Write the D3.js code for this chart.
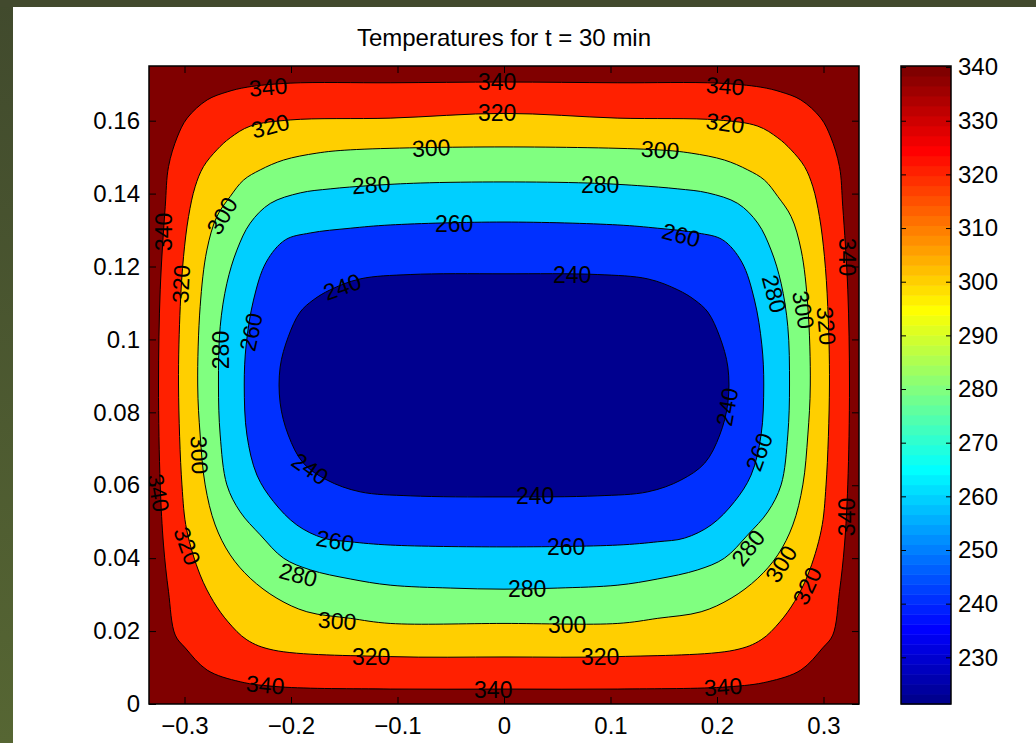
<!DOCTYPE html>
<html>
<head>
<meta charset="utf-8">
<script src="https://cdn.jsdelivr.net/npm/d3@7"></script>
<style>
  html, body { margin: 0; padding: 0; background: #ffffff; }
  svg { display: block; }
  text { font-family: "Liberation Sans", Arial, Helvetica, sans-serif; }
</style>
</head>
<body>
<svg id="chart" width="1036" height="743"></svg>
<script>
// ---------------- DATA ----------------
const titleText = "Temperatures for t = 30 min";
const xDomain = [-1/3, 1/3];
const yDomain = [0, 0.175];
const xTicks = [-0.3, -0.2, -0.1, 0, 0.1, 0.2, 0.3];
const yTicks = [0, 0.02, 0.04, 0.06, 0.08, 0.1, 0.12, 0.14, 0.16];
const colorTicks = [230, 240, 250, 260, 270, 280, 290, 300, 310, 320, 330, 340];
const tempMin = 221.3;   // colour axis limits
const tempMax = 340.2;
const levels = [340, 320, 300, 280, 260, 240];

// Left half of each isotherm (x, y in metres), top centre -> left side -> bottom centre.
// The field is symmetric about x = 0, so the right half is the mirror image.
const contour340 = [[0,0.1706],[-0.1069,0.1704],[-0.2008,0.1703],[-0.2411,0.1692],[-0.2599,0.1679],[-0.2787,0.1657],[-0.2975,0.1607],[-0.3068,0.1555],[-0.3150,0.1474],[-0.3181,0.1364],[-0.3228,0.1136],[-0.3244,0.0875],[-0.3228,0.0601],[-0.3197,0.0436],[-0.3150,0.0308],[-0.3087,0.0189],[-0.2993,0.0154],[-0.2787,0.0093],[-0.2477,0.0061],[-0.2101,0.0047],[-0.1069,0.0041],[0,0.0041]];
const contour320 = [[0,0.1620],[-0.1069,0.1607],[-0.2008,0.1602],[-0.2383,0.1585],[-0.2571,0.1553],[-0.2696,0.1520],[-0.2822,0.1474],[-0.2900,0.1419],[-0.2962,0.1337],[-0.3009,0.1227],[-0.3040,0.1090],[-0.3056,0.0875],[-0.3024,0.0601],[-0.2979,0.0477],[-0.2853,0.0354],[-0.2728,0.0281],[-0.2590,0.0225],[-0.2414,0.0176],[-0.2167,0.0148],[-0.1069,0.0130],[0,0.0129]];
const contour300 = [[0,0.1528],[-0.1444,0.1520],[-0.1757,0.1511],[-0.2070,0.1492],[-0.2289,0.1465],[-0.2446,0.1437],[-0.2571,0.1392],[-0.2696,0.1337],[-0.2790,0.1245],[-0.2853,0.1090],[-0.2876,0.0875],[-0.2853,0.0738],[-0.2806,0.0601],[-0.2712,0.0491],[-0.2571,0.0409],[-0.2383,0.0345],[-0.2132,0.0290],[-0.1851,0.0253],[-0.1444,0.0235],[-0.1069,0.0221],[0,0.0221]];
const contour280 = [[0,0.1432],[-0.0787,0.1429],[-0.1256,0.1422],[-0.1632,0.1413],[-0.1913,0.1402],[-0.2195,0.1373],[-0.2383,0.1319],[-0.2508,0.1245],[-0.2602,0.1154],[-0.2665,0.1035],[-0.2681,0.0875],[-0.2665,0.0738],[-0.2602,0.0601],[-0.2477,0.0527],[-0.2289,0.0464],[-0.2070,0.0400],[-0.1820,0.0368],[-0.1444,0.0343],[-0.1069,0.0326],[-0.0505,0.0318],[0,0.0315]];
const contour260 = [[0,0.1322],[-0.1069,0.1314],[-0.1444,0.1305],[-0.1820,0.1292],[-0.2054,0.1273],[-0.2233,0.1212],[-0.2352,0.1108],[-0.2421,0.0985],[-0.2439,0.0875],[-0.2414,0.0738],[-0.2320,0.0628],[-0.2164,0.0555],[-0.1945,0.0491],[-0.1695,0.0455],[-0.1444,0.0445],[-0.1069,0.0436],[0,0.0431]];
const contour240 = [[0,0.1180],[-0.0881,0.1178],[-0.1351,0.1166],[-0.1632,0.1136],[-0.1792,0.1108],[-0.1914,0.1075],[-0.2026,0.1007],[-0.2102,0.0924],[-0.2102,0.0826],[-0.2026,0.0738],[-0.1885,0.0661],[-0.1660,0.0614],[-0.1351,0.0582],[-0.0881,0.0571],[0,0.0568]];
const contourHalves = {340: contour340, 320: contour320, 300: contour300, 280: contour280, 260: contour260, 240: contour240};

// Contour labels
const labelLevel = [340,340,340,320,320,320,300,300,280,280,260,260,240,240,300,340,320,280,260,340,280,300,320,240,260,300,240,240,340,340,320,260,260,280,280,280,300,320,300,300,320,320,340,340,340];
const labelX = [-0.2214,-0.0064,0.2077,-0.2195,-0.0064,0.2077,-0.0684,0.1467,-0.1247,0.0903,-0.0468,0.1664,-0.1519,0.0640,-0.2646,-0.3191,-0.3031,-0.2655,-0.2374,0.3223,0.2537,0.2809,0.3025,0.2096,0.2396,-0.2862,-0.1820,0.0293,-0.3247,0.3223,-0.2975,-0.1585,0.0584,-0.1932,0.0218,0.2293,0.2603,0.2848,-0.1566,0.0593,-0.1247,0.0903,-0.2242,-0.0101,0.2058];
const labelY = [0.1692,0.1706,0.1695,0.1585,0.1620,0.1593,0.1525,0.1520,0.1424,0.1424,0.1317,0.1286,0.1144,0.1177,0.1339,0.1295,0.1152,0.0971,0.1020,0.1226,0.1125,0.1081,0.1037,0.0815,0.0691,0.0683,0.0645,0.0571,0.0579,0.0513,0.0433,0.0447,0.0431,0.0354,0.0315,0.0428,0.0384,0.0324,0.0228,0.0217,0.0129,0.0129,0.0052,0.0038,0.0047];
const labelAngle = [-5,0,4,-15,0,8,-3,4,-4,0,0,15,-20,0,-60,-90,-87,-90,-78,90,75,80,85,-80,-70,88,35,0,80,-90,70,10,0,15,0,-52,-58,-65,4,0,0,0,5,0,-4];

// ---------------- LAYOUT ----------------
const svg = d3.select("#chart");
const W = 1036, H = 743;
const plot = {left: 149, right: 859, top: 66, bottom: 704};
const cbar = {left: 901, right: 951};
const fontMain = 24, fontLabel = 23;

// page frame (dark border strips of the screenshot)
const defs = svg.append("defs");
const grad = defs.append("linearGradient").attr("id", "stripGrad")
  .attr("x1", 0).attr("y1", 0).attr("x2", 0).attr("y2", 1);
grad.append("stop").attr("offset", "0%").attr("stop-color", "#414a2d");
grad.append("stop").attr("offset", "100%").attr("stop-color", "#566633");
svg.append("rect").attr("x", 0).attr("y", 0).attr("width", W).attr("height", H).attr("fill", "#ffffff");
svg.append("rect").attr("x", 0).attr("y", 0).attr("width", 13).attr("height", H).attr("fill", "url(#stripGrad)");
svg.append("rect").attr("x", 0).attr("y", 0).attr("width", W).attr("height", 7).attr("fill", "#424a2e");

// scales
const x = d3.scaleLinear().domain(xDomain).range([plot.left, plot.right]);
const y = d3.scaleLinear().domain(yDomain).range([plot.bottom, plot.top]);
const cy = d3.scaleLinear().domain([tempMin, tempMax]).range([plot.bottom, plot.top]);

// MATLAB jet colormap (64 entries)
function jetMap(m) {
  const n = Math.ceil(m / 4);
  const u = [];
  for (let i = 1; i <= n; i++) u.push(i / n);
  for (let i = 1; i < n; i++) u.push(1);
  for (let i = n; i >= 1; i--) u.push(i / n);
  const g0 = Math.ceil(n / 2) - ((m % 4) === 1 ? 1 : 0);
  const J = Array.from({length: m}, () => [0, 0, 0]);
  u.forEach((v, i) => {
    const g = g0 + i + 1, r = g + n, b = g - n;
    if (g >= 1 && g <= m) J[g - 1][1] = v;
    if (r >= 1 && r <= m) J[r - 1][0] = v;
    if (b >= 1 && b <= m) J[b - 1][2] = v;
  });
  return J.map(c => d3.rgb(c[0] * 255, c[1] * 255, c[2] * 255).formatHex());
}
const jet = jetMap(64);
const colorOf = d3.scaleQuantize().domain([tempMin, tempMax]).range(jet);

// ---------------- PLOT ----------------
const clipId = "plotClip";
defs.append("clipPath").attr("id", clipId).append("rect")
  .attr("x", plot.left).attr("y", plot.top)
  .attr("width", plot.right - plot.left).attr("height", plot.bottom - plot.top);

const gPlot = svg.append("g").attr("clip-path", `url(#${clipId})`);

// region above the highest level
gPlot.append("rect")
  .attr("x", x(xDomain[0])).attr("y", y(yDomain[1]))
  .attr("width", x(xDomain[1]) - x(xDomain[0]))
  .attr("height", y(yDomain[0]) - y(yDomain[1]))
  .attr("fill", colorOf(levels[0]));

const line = d3.line().x(d => x(d[0])).y(d => y(d[1])).curve(d3.curveCatmullRomClosed.alpha(0.5));
function fullLoop(half) {
  const mirror = half.slice(1, -1).reverse().map(p => [-p[0], p[1]]);
  return half.concat(mirror);
}
levels.forEach((lev, i) => {
  const inner = i + 1 < levels.length ? levels[i + 1] : tempMin;
  gPlot.append("path")
    .attr("d", line(fullLoop(contourHalves[lev])))
    .attr("fill", colorOf(inner))
    .attr("stroke", "#000")
    .attr("stroke-width", 1)
    .attr("stroke-linejoin", "round");
});

// contour labels
gPlot.selectAll("text.clabel")
  .data(labelLevel.map((l, i) => ({l, x: labelX[i], y: labelY[i], a: labelAngle[i]})))
  .join("text")
  .attr("class", "clabel")
  .attr("transform", d => `translate(${x(d.x)},${y(d.y)}) rotate(${d.a})`)
  .attr("text-anchor", "middle")
  .attr("dominant-baseline", "central")
  .attr("font-size", fontLabel)
  .attr("fill", "#000")
  .text(d => d.l);

// axes
const fmtX = d => d === 0 ? "0" : (d < 0 ? "\u2212" : "") + Math.abs(d).toFixed(1);
const fmtY = d => d === 0 ? "0" : d3.format(".2~f")(d);
function styleAxis(g) {
  g.selectAll("path.domain").remove();
  g.selectAll(".tick line").attr("stroke", "#000").attr("stroke-width", 1);
  g.selectAll(".tick text").attr("fill", "#000").attr("font-size", fontMain)
    .attr("font-family", '"Liberation Sans", Arial, Helvetica, sans-serif');
}
svg.append("g").attr("transform", `translate(0,${plot.bottom})`)
  .call(d3.axisBottom(x).tickValues(xTicks).tickFormat(fmtX).tickSizeInner(-7).tickSizeOuter(0).tickPadding(13))
  .call(styleAxis);
svg.append("g").attr("transform", `translate(0,${plot.top})`)
  .call(d3.axisTop(x).tickValues(xTicks).tickFormat("").tickSizeInner(-7).tickSizeOuter(0))
  .call(styleAxis);
svg.append("g").attr("transform", `translate(${plot.left},0)`)
  .call(d3.axisLeft(y).tickValues(yTicks).tickFormat(fmtY).tickSizeInner(-7).tickSizeOuter(0).tickPadding(9))
  .call(styleAxis);
svg.append("g").attr("transform", `translate(${plot.right},0)`)
  .call(d3.axisRight(y).tickValues(yTicks).tickFormat("").tickSizeInner(-7).tickSizeOuter(0))
  .call(styleAxis);

svg.append("rect")
  .attr("x", plot.left).attr("y", plot.top)
  .attr("width", plot.right - plot.left).attr("height", plot.bottom - plot.top)
  .attr("fill", "none").attr("stroke", "#000").attr("stroke-width", 1.5);

// title
svg.append("text")
  .attr("x", (plot.left + plot.right) / 2).attr("y", 46)
  .attr("text-anchor", "middle").attr("font-size", fontMain).attr("fill", "#000")
  .text(titleText);

// ---------------- COLORBAR ----------------
const step = (tempMax - tempMin) / jet.length;
svg.append("g").selectAll("rect")
  .data(jet.map((c, i) => ({c, v0: tempMin + i * step, v1: tempMin + (i + 1) * step})))
  .join("rect")
  .attr("x", cbar.left)
  .attr("width", cbar.right - cbar.left)
  .attr("y", d => cy(d.v1))
  .attr("height", d => cy(d.v0) - cy(d.v1) + 0.5)
  .attr("fill", d => d.c);

svg.append("g").attr("transform", `translate(${cbar.right},0)`)
  .call(d3.axisRight(cy).tickValues(colorTicks).tickFormat(d3.format("d")).tickSizeInner(-5).tickSizeOuter(0).tickPadding(7))
  .call(styleAxis);
svg.append("g").attr("transform", `translate(${cbar.left},0)`)
  .call(d3.axisLeft(cy).tickValues(colorTicks).tickFormat("").tickSizeInner(-5).tickSizeOuter(0))
  .call(styleAxis);
svg.append("rect")
  .attr("x", cbar.left).attr("y", plot.top)
  .attr("width", cbar.right - cbar.left).attr("height", plot.bottom - plot.top)
  .attr("fill", "none").attr("stroke", "#000").attr("stroke-width", 1.5);
</script>
</body>
</html>
